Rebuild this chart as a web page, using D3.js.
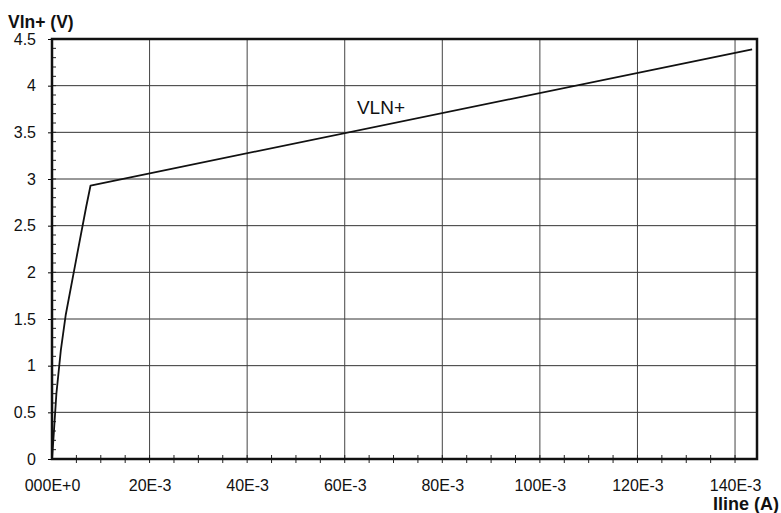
<!DOCTYPE html>
<html>
<head>
<meta charset="utf-8">
<script src="https://cdn.jsdelivr.net/npm/d3@7"></script>
<style>
  body { margin: 0; background: #fff; }
  svg { display: block; font-family: "Liberation Sans", Arial, sans-serif; }
</style>
</head>
<body>
<div id="chart"></div>
<script>
// data: current in mA, voltage in V
var currentMA = [0, 0.3, 0.9, 1.8, 2.8, 5.0, 7.0, 7.9, 143.5]
var voltage   = [0, 0.22, 0.7, 1.16, 1.54, 2.15, 2.7, 2.93, 4.39]
var seriesName = 'VLN+'

var xTicks = [0, 20, 40, 60, 80, 100, 120, 140]
var xTickLabels = ['000E+0', '20E-3', '40E-3', '60E-3', '80E-3', '100E-3', '120E-3', '140E-3']
var yTicks = [0, 0.5, 1, 1.5, 2, 2.5, 3, 3.5, 4, 4.5]
var yTickLabels = ['0', '0.5', '1', '1.5', '2', '2.5', '3', '3.5', '4', '4.5']

var width = 781, height = 513
var margin = {top: 39, right: 24, bottom: 54, left: 52}
var w = width - margin.left - margin.right
var h = height - margin.top - margin.bottom

var svg = d3.select('#chart').append('svg')
    .attr('width', width)
    .attr('height', height)

var g = svg.append('g')
    .attr('transform', `translate(${margin.left},${margin.top})`)

var x = d3.scaleLinear().domain([0, 144.5]).range([0, w])
var y = d3.scaleLinear().domain([0, 4.5]).range([h, 0])

// grid
g.append('g')
  .selectAll('line')
  .data(yTicks.slice(1))
  .join('line')
    .attr('x1', 0).attr('x2', w)
    .attr('y1', d => y(d)).attr('y2', d => y(d))
    .attr('stroke', '#333').attr('stroke-width', 1)

g.append('g')
  .selectAll('line')
  .data(xTicks.slice(1))
  .join('line')
    .attr('x1', d => x(d)).attr('x2', d => x(d))
    .attr('y1', 0).attr('y2', h)
    .attr('stroke', '#444').attr('stroke-width', 1)

// minor ticks
g.append('g')
  .selectAll('line')
  .data(d3.range(0, 4.5, 0.1))
  .join('line')
    .attr('x1', -1).attr('x2', 4)
    .attr('y1', d => y(d)).attr('y2', d => y(d))
    .attr('stroke', '#222').attr('stroke-width', 1)

g.append('g')
  .selectAll('line')
  .data(d3.range(5, 145, 5))
  .join('line')
    .attr('x1', d => x(d)).attr('x2', d => x(d))
    .attr('y1', h - 4).attr('y2', h + 4)
    .attr('stroke', '#222').attr('stroke-width', 1)

// axes
var yAxis = g.append('g')
    .call(d3.axisLeft(y).tickValues(yTicks).tickSize(4).tickPadding(12)
      .tickFormat((d, i) => yTickLabels[i]))
yAxis.select('.domain').remove()
yAxis.selectAll('text')
    .attr('font-size', 16).attr('fill', '#111')
    .attr('font-family', '"Liberation Sans", Arial, sans-serif')

var xAxis = g.append('g')
    .attr('transform', `translate(0,${h})`)
    .call(d3.axisBottom(x).tickValues(xTicks).tickSize(0).tickPadding(21)
      .tickFormat((d, i) => xTickLabels[i]))
xAxis.select('.domain').remove()
xAxis.selectAll('text')
    .attr('font-size', 16).attr('fill', '#111')
    .attr('font-family', '"Liberation Sans", Arial, sans-serif')

// frame
g.append('rect')
    .attr('x', 0).attr('y', 0)
    .attr('width', w).attr('height', h)
    .attr('fill', 'none')
    .attr('stroke', '#111').attr('stroke-width', 2.5)

// curve
var line = d3.line()
    .x(d => x(d[0]))
    .y(d => y(d[1]))

g.append('path')
    .datum(currentMA.map((c, i) => [c, voltage[i]]))
    .attr('d', line)
    .attr('fill', 'none')
    .attr('stroke', '#111')
    .attr('stroke-width', 1.8)
    .attr('stroke-linejoin', 'round')

g.append('text')
    .attr('x', x(62.5))
    .attr('y', y(3.7))
    .attr('font-size', 19)
    .attr('fill', '#111')
    .text(seriesName)

// axis titles
svg.append('text')
    .attr('x', 8).attr('y', 28)
    .attr('font-size', 17.5).attr('font-weight', 'bold').attr('fill', '#111')
    .text('Vln+ (V)')

svg.append('text')
    .attr('x', 779).attr('y', 510)
    .attr('text-anchor', 'end')
    .attr('font-size', 18).attr('font-weight', 'bold').attr('fill', '#111')
    .text('Iline (A)')
</script>
</body>
</html>
